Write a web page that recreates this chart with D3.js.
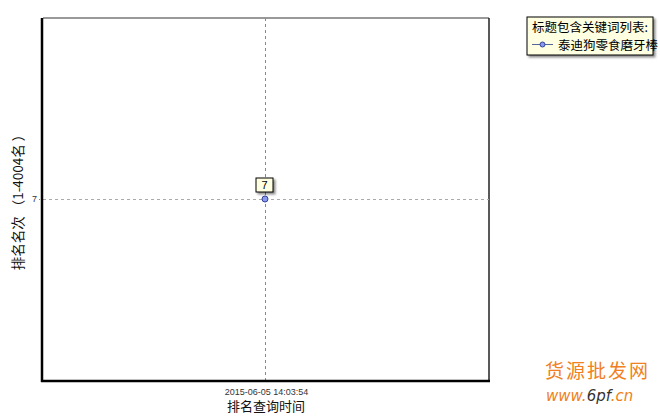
<!DOCTYPE html>
<html><head><meta charset="utf-8">
<script src="https://cdn.jsdelivr.net/npm/d3@7"></script>
<style>body{margin:0;background:#fff}svg{display:block}</style>
</head><body>
<script>
const times = ["2015-06-05 14:03:54"];
const ranks = [7];
const seriesName = "泰迪狗零食磨牙棒";
const legendTitle = "标题包含关键词列表:";
const yLabel = "排名名次 （1-4004名 ）";
const xLabel = "排名查询时间";

const W = 660, H = 416;
const svg = d3.select("body").append("svg").attr("width", W).attr("height", H);
const m = {l: 43, t: 18, r: 489, b: 380};

const x = d3.scalePoint().domain(times).range([m.l, m.r]).padding(0.5);
const y = d3.scaleLinear().domain([ranks[0] + 1, ranks[0] - 1]).range([m.b, m.t]);

const defs = svg.append("defs");
const f = defs.append("filter").attr("id","sh").attr("x","-20%").attr("y","-20%").attr("width","160%").attr("height","160%");
f.append("feDropShadow").attr("dx",2).attr("dy",2).attr("stdDeviation",1).attr("flood-color","#000").attr("flood-opacity",0.45);

// frame
svg.append("line").attr("x1",m.l).attr("x2",m.r).attr("y1",m.t).attr("y2",m.t).attr("stroke","#777").attr("stroke-width",1.5);
svg.append("line").attr("x1",m.r).attr("x2",m.r).attr("y1",m.t).attr("y2",m.b).attr("stroke","#222").attr("stroke-width",1.5);

// gridlines
svg.append("g").selectAll("line").data(ranks).join("line")
  .attr("x1", m.l).attr("x2", m.r).attr("y1", d => y(d)+0.5).attr("y2", d => y(d)+0.5)
  .attr("stroke","#aaa").attr("stroke-dasharray","3,3");
svg.append("g").selectAll("line").data(times).join("line")
  .attr("y1", m.t).attr("y2", m.b+4).attr("x1", d => Math.round(x(d))-0.5).attr("x2", d => Math.round(x(d))-0.5)
  .attr("stroke","#888").attr("stroke-dasharray","3,3");

// axes
const yAxis = d3.axisLeft(y).tickValues(ranks).tickSize(4).tickFormat(d3.format("d"));
const gy = svg.append("g").attr("transform", `translate(${m.l},0)`).call(yAxis);
gy.select(".domain").remove();
gy.selectAll(".tick line").attr("stroke","#888").attr("stroke-dasharray","2,1");
gy.selectAll("text").attr("font-family","Liberation Sans, Arial").attr("font-size",9).attr("fill","#333").attr("x",-6);

const xAxis = d3.axisBottom(x).tickSize(0);
const gx = svg.append("g").attr("transform", `translate(0,${m.b})`).call(xAxis);
gx.select(".domain").remove();
gx.selectAll("text").attr("font-family","Liberation Sans, Arial").attr("font-size",9).attr("fill","#333").attr("dy",0).attr("y",14.5);

// thick left/bottom
svg.append("line").attr("x1",m.l-1).attr("x2",m.l-1).attr("y1",m.t).attr("y2",m.b+2).attr("stroke","#000").attr("stroke-width",2.5);
svg.append("line").attr("x1",m.l-2).attr("x2",m.r+1).attr("y1",m.b+1).attr("y2",m.b+1).attr("stroke","#000").attr("stroke-width",2.5);

// axis titles
svg.append("text").attr("x", (m.l+m.r)/2).attr("y", 411).attr("text-anchor","middle")
  .attr("font-family","Noto Sans CJK SC").attr("font-size",13).attr("fill","#111").text(xLabel);
svg.append("text").attr("transform", `translate(23,${(m.t+m.b)/2}) rotate(-90)`).attr("text-anchor","middle")
  .attr("font-family","Noto Sans CJK SC").attr("font-size",13.5).attr("fill","#111").text(yLabel);

// data points
const data = times.map((t,i)=>({t, v: ranks[i]}));
svg.append("path").datum(data).attr("fill","none").attr("stroke","#6677cc")
  .attr("d", d3.line().x(d=>x(d.t)).y(d=>y(d.v)));
const pts = svg.append("g").selectAll("g").data(data).join("g")
  .attr("transform", d => `translate(${x(d.t)-1},${y(d.v)})`);
pts.append("circle").attr("r",3).attr("fill","#8899ee").attr("stroke","#334499").attr("stroke-width",1);
// labels
const lab = svg.append("g").selectAll("g").data(data).join("g")
  .attr("transform", d => `translate(${x(d.t)-1},${y(d.v)-14})`);
lab.append("rect").attr("x",-9).attr("y",-7).attr("width",17).attr("height",14)
  .attr("fill","#ffffe1").attr("stroke","#000").attr("filter","url(#sh)");
lab.append("text").attr("x",-0.5).attr("y",4).attr("text-anchor","middle")
  .attr("font-family","Liberation Sans, Arial").attr("font-size",11).attr("fill","#000").text(d=>d.v);

// legend
const lg = svg.append("g").attr("transform","translate(527,17)");
lg.append("rect").attr("width",126).attr("height",38).attr("fill","#ffffe1").attr("stroke","#000").attr("filter","url(#sh)");
lg.append("text").attr("x",5).attr("y",15).attr("font-family","Noto Sans CJK SC").attr("font-size",12.5).attr("fill","#000").text(legendTitle);
lg.append("line").attr("x1",5).attr("x2",26).attr("y1",27.5).attr("y2",27.5).attr("stroke","#556699");
lg.append("circle").attr("cx",15.5).attr("cy",27.5).attr("r",2.5).attr("fill","#8899ee").attr("stroke","#334499");
lg.append("text").attr("x",31).attr("y",32.5).attr("font-family","Noto Sans CJK SC").attr("font-size",12.5).attr("fill","#000").text(seriesName);

// watermark
svg.append("text").attr("x",545).attr("y",378).attr("font-family","Noto Sans CJK SC").attr("font-size",19).attr("fill","#f08020").attr("letter-spacing",2).text("货源批发网");
const wm = svg.append("text").attr("x",546).attr("y",401).attr("font-family","DejaVu Sans").attr("font-size",15).attr("font-style","italic");
wm.append("tspan").attr("fill","#f08020").text("www.");
wm.append("tspan").attr("fill","#333").text("6pf");
wm.append("tspan").attr("fill","#f08020").text(".cn");
</script>
</body></html>
